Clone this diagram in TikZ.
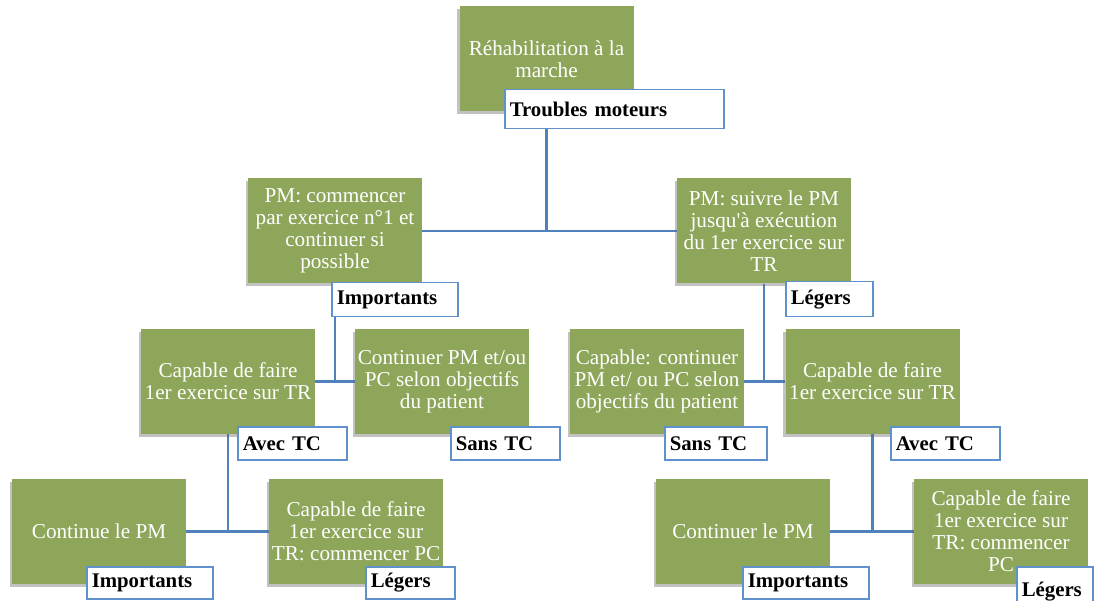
\documentclass[tikz,border=0pt]{standalone}
\usepackage{fontspec}
\setmainfont{Liberation Serif}
\usetikzlibrary{shadows,backgrounds}
\definecolor{boxgreen}{RGB}{142,166,90}
\definecolor{linkblue}{RGB}{79,129,189}
\definecolor{frameblue}{RGB}{95,145,205}
\tikzset{
  greenbox/.style={rectangle, fill=boxgreen, text=white, align=center,
    minimum width=174pt, minimum height=105pt, inner sep=2pt,
    font=\fontsize{21.2}{22}\selectfont,
    drop shadow={shadow xshift=-2.5pt, shadow yshift=-3pt, opacity=0.4, fill=black!60}},
  tag/.style={rectangle, draw=frameblue, line width=1.5pt, fill=white, text=black,
    anchor=north west, inner xsep=5pt, inner ysep=0pt, align=left,
    font=\fontsize{20.8}{21.5}\selectfont\bfseries},
  link/.style={draw=linkblue, line width=2.2pt}
}
\begin{document}
\begin{tikzpicture}[x=1pt,y=-1pt]
\useasboundingbox (0,0) rectangle (1095,601);
% green boxes
\node[greenbox] (G1) at (546.5,59) {Réhabilitation à la\\marche};
\node[greenbox] (G2) at (335,231) {PM: commencer\\par exercice n°1 et\\continuer si\\possible};
\node[greenbox] (G3) at (764,231) {PM: suivre le PM\\jusqu\textquotesingle à exécution\\du 1er exercice sur\\TR};
\node[greenbox] (G4) at (228,381.5) {Capable de faire\\1er exercice sur TR};
\node[greenbox] (G5) at (442,381.5) {Continuer PM et/ou\\PC selon objectifs\\du patient};
\node[greenbox] (G6) at (657,381.5) {Capable: continuer\\PM et/ ou PC selon\\objectifs du patient};
\node[greenbox] (G7) at (872.5,381.5) {Capable de faire\\1er exercice sur TR};
\node[greenbox] (G8) at (99,531.5) {Continue le PM};
\node[greenbox] (G9) at (356,531.5) {Capable de faire\\1er exercice sur\\TR: commencer PC};
\node[greenbox] (G10) at (743,531.5) {Continuer le PM};
\node[greenbox] (G11) at (1001,531.5) {\raisebox{1.5pt}{\parbox{170pt}{\centering Capable de faire\\1er exercice sur\\TR: commencer\\PC}}};
% connectors
\begin{scope}[on background layer]
\draw[link] (G1.south) -- (G1 |- G2);
\draw[link] (G2.east) -- (G3.west);
\draw[link] (G2.south) -- (G2 |- G4);
\draw[link] (G4.east) -- (G5.west);
\draw[link] (G3.south) -- (G3 |- G6);
\draw[link] (G6.east) -- (G7.west);
\draw[link] (G4.south) -- (G4 |- G8);
\draw[link] (G8.east) -- (G9.west);
\draw[link] (G7.south) -- (G7 |- G10);
\draw[link] (G10.east) -- (G11.west);
\end{scope}
% tags
\node[tag, text width=209pt, minimum height=39pt] (L1) at (504,89) {Troubles moteurs};
\node[tag, text width=116pt, minimum height=34pt] (L2) at (331,282) {Importants};
\node[tag, text width=77pt, minimum height=35pt] (L3) at (785,281) {Légers};
\node[tag, text width=99pt, minimum height=33pt] (L4) at (237,426) {Avec TC};
\node[tag, text width=99pt, minimum height=33pt] (L5) at (450,426) {Sans TC};
\node[tag, text width=92pt, minimum height=33pt] (L6) at (664,426) {Sans TC};
\node[tag, text width=99pt, minimum height=33pt] (L7) at (890,426) {Avec TC};
\node[tag, text width=116pt, minimum height=32pt] (L8) at (86,566) {Importants};
\node[tag, text width=79pt, minimum height=32pt] (L9) at (365,566) {Légers};
\node[tag, text width=116pt, minimum height=32pt] (L10) at (742,566) {Importants};
\node[tag, text width=66pt, minimum height=42pt, text depth=0pt] (L11) at (1016,566) {\raisebox{-4pt}{Légers}};
\end{tikzpicture}
\end{document}
